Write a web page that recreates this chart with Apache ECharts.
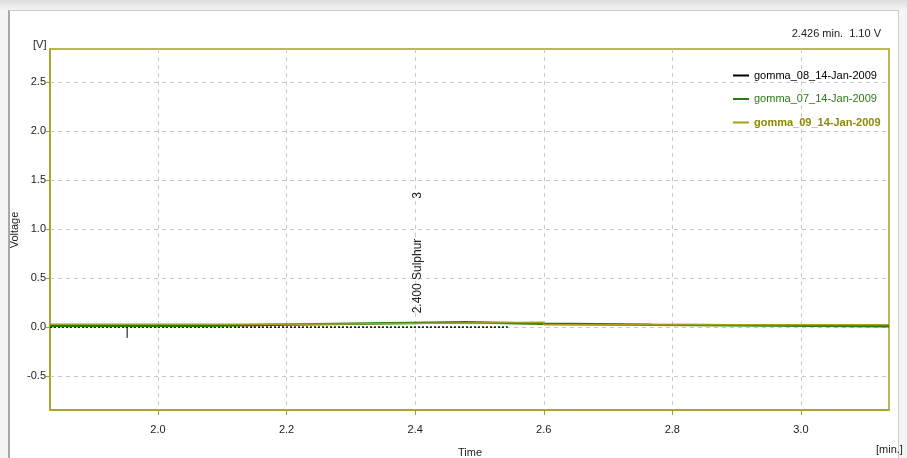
<!DOCTYPE html>
<html><head><meta charset="utf-8">
<script src="https://cdn.jsdelivr.net/npm/echarts@6/dist/echarts.min.js"></script>
<style>
html,body{margin:0;padding:0;width:907px;height:458px;overflow:hidden;}
body{background:linear-gradient(#dcdcdc,#f4f4f4 10px,#f4f4f4);position:relative;}
#panel{position:absolute;left:8px;top:10px;width:891px;height:448px;background:#fff;border-left:2px solid #a8a8a8;border-top:1px solid #c8c8c8;border-right:1px solid #d0d0d0;box-sizing:border-box;}
#chart{position:absolute;left:0;top:0;width:907px;height:458px;}
</style></head>
<body><div id="panel"></div><div id="chart"></div>
<script>
// ---- data ----
const seriesNames = ['gomma_08_14-Jan-2009','gomma_07_14-Jan-2009','gomma_09_14-Jan-2009'];
const timeBlack = [1.832, 2.544];
const valBlack  = [0.0,   0.0];
const timeMarker = [1.952, 1.952];
const valMarker  = [0.0,  -0.11];
const timeGreen = [1.832, 2.076, 2.076, 2.24, 2.24, 2.48, 2.48, 2.6, 2.6, 2.768, 2.768, 3.137];
const valGreen  = [0.015, 0.015, 0.03,  0.03, 0.05, 0.05, 0.035, 0.035, 0.025, 0.025, 0.01, 0.01];
const timeOlive = [1.832, 2.24, 2.24, 2.6, 2.6, 3.137];
const valOlive  = [0.03,  0.03, 0.05, 0.05, 0.025, 0.025];
const xTicks = [2.0, 2.2, 2.4, 2.6, 2.8, 3.0];
const yTicks = [-0.5, 0.0, 0.5, 1.0, 1.5, 2.0, 2.5];
const annotation = {time: 2.4, value: 0.14, name: '2.400 Sulphur', id: '3'};
const readout = '2.426 min.  1.10 V';

const pair = (t, v) => t.map((x, i) => [x, v[i]]);
const font = "'Liberation Sans', Arial, sans-serif";
const olive = '#a3a01c', green = '#2a7a12', frame = '#a6a21e';

const chart = echarts.init(document.getElementById('chart'), null, {renderer: 'canvas'});
chart.setOption({
  animation: false,
  backgroundColor: 'transparent',
  grid: {left: 50, top: 49, right: 18, bottom: 48, show: true, borderColor: frame, borderWidth: 1.5,
         containLabel: false, outerBoundsMode: 'none'},
  xAxis: {
    type: 'value', min: 1.832, max: 3.137,
    axisLine: {show: true, onZero: false, lineStyle: {color: frame, width: 1.5}},
    axisTick: {show: true, length: 5, customValues: xTicks, lineStyle: {color: frame}},
    axisLabel: {customValues: xTicks, formatter: v => v.toFixed(1), color: '#222', fontFamily: font, fontSize: 11, margin: 14},
    splitLine: {show: true, lineStyle: {color: '#c8c8c8', type: [4, 4]}}
  },
  yAxis: {
    type: 'value', min: -0.845, max: 2.835,
    axisLine: {show: true, lineStyle: {color: frame, width: 1.5}},
    axisTick: {show: true, length: 4, customValues: yTicks, lineStyle: {color: frame}},
    axisLabel: {customValues: yTicks, formatter: v => v.toFixed(1), color: '#222', fontFamily: font, fontSize: 11, margin: 4},
    splitLine: {show: true, lineStyle: {color: '#c8c8c8', type: [4, 4]}}
  },
  legend: {
    orient: 'vertical', left: 728, top: 65, itemGap: 12.5, itemWidth: 16, itemHeight: 2, icon: 'rect',
    textStyle: {fontFamily: font, fontSize: 11},
    data: [
      {name: seriesNames[0], textStyle: {color: '#000'}},
      {name: seriesNames[1], textStyle: {color: green}},
      {name: seriesNames[2], textStyle: {color: '#8e8a00', fontWeight: 'bold'}}
    ]
  },
  graphic: [
    {type: 'text', right: 26, top: 28, style: {text: readout, font: "11px " + font, fill: '#222'}},
    {type: 'text', left: 33, top: 39, style: {text: '[V]', font: "11px " + font, fill: '#222'}},
    {type: 'text', left: 876, top: 444, style: {text: '[min.]', font: "11px " + font, fill: '#222'}},
    {type: 'text', x: 470, y: 453, style: {text: 'Time', font: "11px " + font, fill: '#222', align: 'center', verticalAlign: 'middle'}},
    {type: 'text', x: 15, y: 230, rotation: Math.PI / 2, style: {text: 'Voltage', font: "11px " + font, fill: '#222', align: 'center', verticalAlign: 'middle'}}
  ],
  series: [
    {name: seriesNames[0], type: 'line', data: pair(timeBlack, valBlack), showSymbol: false, symbol: 'none',
     lineStyle: {color: '#000', width: 1.5, type: [2, 2]}, itemStyle: {color: '#000'}},
    {name: 'marker', type: 'line', data: pair(timeMarker, valMarker), showSymbol: false, symbol: 'none',
     lineStyle: {color: '#000', width: 1}, itemStyle: {color: '#000'}},
    {name: seriesNames[1], type: 'line', data: pair(timeGreen, valGreen), showSymbol: false, symbol: 'none',
     lineStyle: {color: green, width: 2.5}, itemStyle: {color: green}},
    {name: seriesNames[2], type: 'line', data: pair(timeOlive, valOlive), showSymbol: false, symbol: 'none',
     lineStyle: {color: olive, width: 1.5}, itemStyle: {color: olive},
     markPoint: {symbol: 'circle', symbolSize: 0, silent: true,
       data: [{coord: [annotation.time, annotation.value], value: 0}],
       label: {show: true, formatter: () => '{a|' + annotation.name + '}{b|' + annotation.id + '}',
         rotate: 90, position: 'inside', align: 'left', verticalAlign: 'middle', offset: [0, 3],
         color: '#222', fontFamily: font, fontSize: 12,
         rich: {a: {fontFamily: font, fontSize: 12, color: '#222'},
                b: {fontFamily: font, fontSize: 12, color: '#222', padding: [0, 0, 0, 40]}}}}}
  ]
});
</script></body></html>
